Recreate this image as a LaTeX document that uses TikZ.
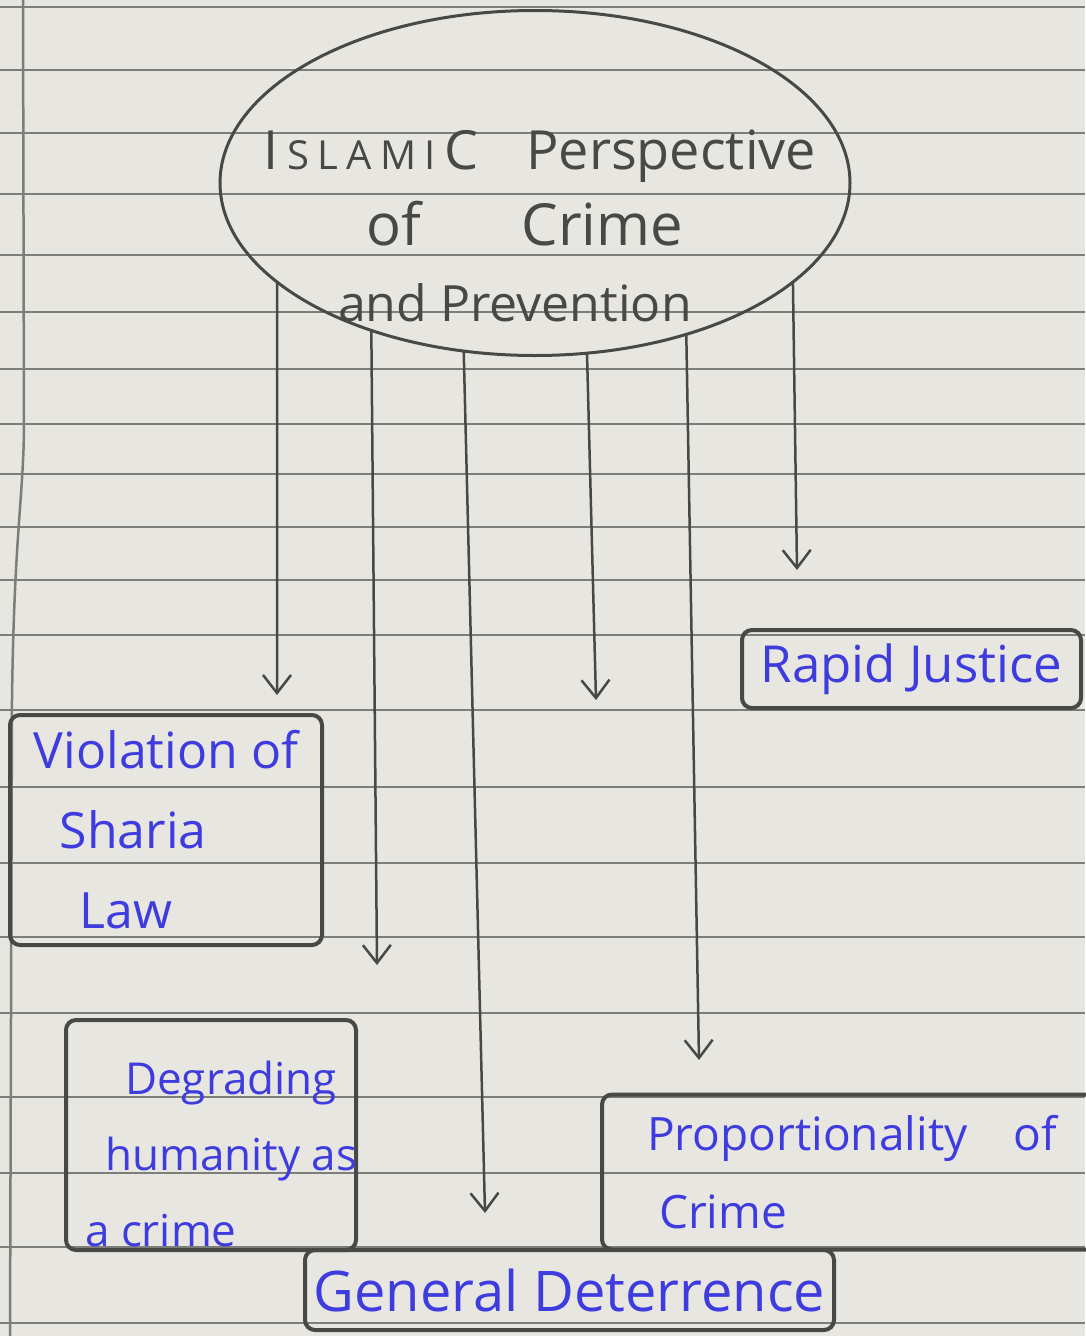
\documentclass[tikz,border=0pt]{standalone}
\usepackage{fontspec}
\setmainfont{Open Sans}
\usetikzlibrary{arrows.meta,shapes.geometric}

\definecolor{paper}{RGB}{232,230,225}
\definecolor{ruling}{RGB}{125,125,122}
\definecolor{pencil}{RGB}{72,72,70}
\definecolor{inkblue}{RGB}{62,60,222}

\tikzset{
  topicbox/.style={draw=pencil, line width=4pt, rounded corners=10pt, text=inkblue,
    align=center, inner sep=0pt, outer sep=0pt, font={\fontsize{44}{76}\selectfont}},
  downarrow/.style={draw=pencil, line width=2.5pt,
    -{Straight Barb[length=18pt, width=28pt]}},
  paperline/.style={draw=ruling, line width=1.6pt}
}

\begin{document}
\begin{tikzpicture}[x=1pt, y=-1pt]

\useasboundingbox (0,0) rectangle (1085,1336);
\fill [paper] (0,0) rectangle (1085,1336);

% ruled sheet
\foreach \y in {7,70,133,194,255,312,369,424,474,527,580,635,710,787,863,937,1013,1097,1173,1247,1323}
  \draw [paperline] (0,\y) -- (1085,\y);
\draw [paperline, line width=2.5pt] (23,0) -- (24,430) .. controls (23,500) and (14,540) .. (12,700) -- (10,1336);


\node [ellipse, draw=pencil, line width=3pt, minimum width=630pt, minimum height=345pt,
inner sep=0pt, outer sep=0pt] (ellipse) at (535,183) {};

\node [text=pencil, align=center, font={\fontsize{50}{76}\selectfont}] (title)
 at (540,226) {{\fontsize{54}{54}\selectfont I\,{\fontsize{40}{40}\selectfont\addfontfeature{LetterSpace=20}SLAMI}\,C\hspace{48pt}Perspective}\\
\hspace*{-30pt}{\fontsize{58}{58}\selectfont of\hspace{100pt}Crime}\\
\hspace*{-50pt}and Prevention};


\node [topicbox, minimum width=312pt, minimum height=230pt, align=left, font={\fontsize{50}{80}\selectfont}] (sharia)
 at (166,830) {Violation of\\\hspace*{26pt}Sharia\\\hspace*{46pt}Law};

\node [topicbox, minimum width=339pt, minimum height=78pt, font={\fontsize{51}{51}\selectfont}] (rapid)
 at (911.5,669) {Rapid Justice};

\node [topicbox, minimum width=290pt, minimum height=230pt, align=left] (humanity)
 at (211,1135) {\rule{0pt}{72pt}\hspace*{40pt}Degrading\\\makebox[221pt][l]{\hspace*{20pt}humanity as}\\a crime};

\node [topicbox, minimum width=500pt, minimum height=155pt, align=left, font={\fontsize{46}{78}\selectfont}] (proportion)
 at (852,1172) {Proportionality\quad of\\\hspace*{12pt}Crime};

\node [topicbox, minimum width=529pt, minimum height=80pt, font={\fontsize{56}{56}\selectfont}] (deterrence)
 at (569.5,1290) {General Deterrence};


\coordinate (t1) at (277,695);
\coordinate (t2) at (377,965);
\coordinate (t3) at (485,1213);
\coordinate (t4) at (596,700);
\coordinate (t5) at (699,1060);
\coordinate (t6) at (797,570);

\foreach \ang/\tip in {201/t1, 222.9/t2, 247.4/t3, 287.9/t4, 315.9/t5, 339.5/t6}
  \draw [downarrow] (ellipse.\ang) -- (\tip);

\end{tikzpicture}
\end{document}
